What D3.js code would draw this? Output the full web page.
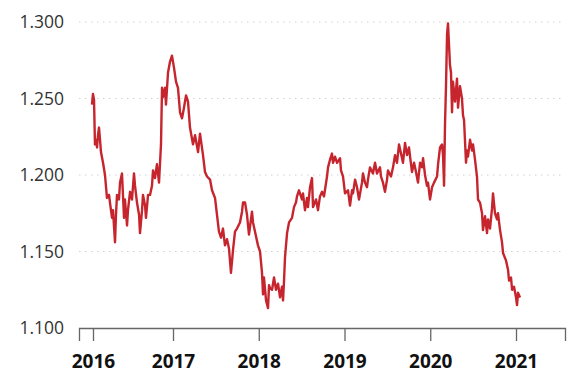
<!DOCTYPE html>
<html>
<head>
<meta charset="utf-8">
<script src="https://cdn.jsdelivr.net/npm/d3@7"></script>
<style>
  html, body { margin: 0; padding: 0; background: #fff; }
  svg { display: block; }
</style>
</head>
<body>
<svg id="chart" width="575" height="385"></svg>
<script>
// Time in decimal years
const years = [
  2016.055,2016.067,2016.079,2016.090,2016.102,2016.114,2016.125,2016.137,2016.149,2016.160,
  2016.184,2016.207,2016.230,2016.254,2016.265,2016.289,2016.300,2016.324,2016.335,2016.347,
  2016.370,2016.382,2016.405,2016.429,2016.440,2016.464,2016.475,2016.499,2016.522,2016.545,
  2016.557,2016.580,2016.604,2016.615,2016.639,2016.650,2016.674,2016.685,2016.709,2016.732,
  2016.755,2016.767,2016.790,2016.813,2016.837,2016.860,2016.872,2016.883,2016.907,2016.918,
  2016.942,2016.965,2016.988,2017.012,2017.035,2017.058,2017.082,2017.105,2017.128,2017.152,
  2017.175,2017.198,2017.233,2017.257,2017.292,2017.315,2017.350,2017.373,2017.397,2017.432,
  2017.455,2017.490,2017.513,2017.536,2017.560,2017.583,2017.606,2017.630,2017.653,2017.676,
  2017.700,2017.723,2017.746,2017.781,2017.805,2017.816,2017.840,2017.863,2017.886,2017.921,
  2017.933,2017.956,2017.991,2018.015,2018.038,2018.050,2018.061,2018.085,2018.108,2018.120,
  2018.131,2018.155,2018.178,2018.201,2018.225,2018.248,2018.271,2018.283,2018.295,2018.306,
  2018.330,2018.353,2018.388,2018.411,2018.434,2018.446,2018.469,2018.504,2018.516,2018.539,
  2018.563,2018.574,2018.598,2018.621,2018.633,2018.668,2018.691,2018.714,2018.738,2018.761,
  2018.796,2018.808,2018.831,2018.854,2018.866,2018.889,2018.913,2018.948,2018.959,2018.983,
  2019.006,2019.041,2019.064,2019.088,2019.099,2019.123,2019.146,2019.169,2019.204,2019.216,
  2019.239,2019.262,2019.274,2019.297,2019.332,2019.356,2019.379,2019.414,2019.426,2019.449,
  2019.472,2019.496,2019.507,2019.542,2019.566,2019.589,2019.612,2019.636,2019.659,2019.682,
  2019.706,2019.729,2019.752,2019.776,2019.787,2019.811,2019.834,2019.857,2019.881,2019.904,
  2019.916,2019.939,2019.962,2019.974,2019.997,2020.021,2020.044,2020.079,2020.091,2020.114,
  2020.137,2020.149,2020.161,2020.172,2020.184,2020.196,2020.207,2020.230,2020.242,2020.254,
  2020.265,2020.289,2020.312,2020.324,2020.347,2020.370,2020.382,2020.394,2020.417,2020.429,
  2020.440,2020.464,2020.487,2020.499,2020.522,2020.545,2020.557,2020.580,2020.604,2020.615,
  2020.639,2020.662,2020.674,2020.697,2020.720,2020.732,2020.755,2020.779,2020.790,2020.814,
  2020.837,2020.849,2020.884,2020.907,2020.919,2020.942,2020.954,2020.977,2021.000,2021.012,
  2021.023,2021.047
];
const values = [
  1.246,1.253,1.249,1.220,1.223,1.218,1.226,1.231,1.223,1.215,
  1.208,1.200,1.185,1.187,1.182,1.172,1.177,1.156,1.174,1.187,
  1.184,1.195,1.201,1.172,1.184,1.167,1.177,1.189,1.184,1.201,
  1.193,1.182,1.174,1.162,1.177,1.187,1.180,1.172,1.187,1.187,
  1.193,1.203,1.198,1.207,1.195,1.220,1.257,1.251,1.257,1.246,
  1.267,1.274,1.278,1.270,1.261,1.257,1.241,1.237,1.244,1.252,
  1.248,1.231,1.220,1.226,1.215,1.227,1.213,1.202,1.199,1.197,
  1.190,1.185,1.174,1.163,1.159,1.165,1.154,1.158,1.152,1.136,
  1.151,1.163,1.165,1.169,1.176,1.182,1.182,1.174,1.161,1.176,
  1.169,1.163,1.154,1.150,1.136,1.122,1.133,1.118,1.113,1.128,
  1.126,1.125,1.133,1.125,1.129,1.120,1.127,1.118,1.131,1.146,
  1.162,1.169,1.172,1.179,1.182,1.186,1.190,1.184,1.188,1.177,
  1.185,1.179,1.192,1.198,1.179,1.184,1.177,1.186,1.189,1.186,
  1.199,1.205,1.210,1.214,1.208,1.212,1.208,1.211,1.203,1.199,
  1.188,1.190,1.180,1.190,1.188,1.197,1.192,1.184,1.195,1.201,
  1.195,1.192,1.197,1.205,1.201,1.208,1.201,1.205,1.199,1.195,
  1.189,1.197,1.203,1.199,1.205,1.213,1.208,1.220,1.214,1.208,
  1.221,1.213,1.218,1.207,1.202,1.208,1.202,1.195,1.208,1.205,
  1.211,1.200,1.193,1.195,1.184,1.192,1.195,1.199,1.207,1.218,
  1.220,1.213,1.193,1.233,1.259,1.292,1.299,1.272,1.267,1.241,
  1.261,1.248,1.263,1.244,1.258,1.250,1.239,1.236,1.208,1.216,
  1.212,1.223,1.216,1.220,1.210,1.199,1.184,1.182,1.175,1.164,
  1.173,1.162,1.171,1.165,1.178,1.188,1.175,1.171,1.175,1.164,
  1.156,1.149,1.144,1.138,1.131,1.133,1.125,1.127,1.120,1.115,
  1.123,1.120
];
const yTicks = [1.100, 1.150, 1.200, 1.250, 1.300];
const xTickValues = [2016.067, 2017, 2018, 2019, 2020, 2021];
const xTickLabels = ["2016", "2017", "2018", "2019", "2020", "2021"];

const data = years.map((t, i) => ({ t, v: values[i] }));

const svg = d3.select("#chart");
const mLeft = 79, mRight = 565, mTop = 22, mBottom = 328;

const x = d3.scaleLinear()
  .domain([2017 - (173 - mLeft) / 85.75, 2021 + (mRight - 516) / 85.75])
  .range([mLeft, mRight]);
const y = d3.scaleLinear().domain([1.1, 1.3]).range([mBottom, mTop]);

// gridlines
svg.append("g")
  .selectAll("line")
  .data(yTicks.filter(d => d > 1.1))
  .join("line")
  .attr("x1", mLeft).attr("x2", mRight)
  .attr("y1", d => y(d)).attr("y2", d => y(d))
  .attr("stroke", "#d2d2d2")
  .attr("stroke-width", 1)
  .attr("stroke-dasharray", "1.5,4.5");

// y labels
svg.append("g")
  .selectAll("text")
  .data(yTicks)
  .join("text")
  .attr("x", 64)
  .attr("y", d => y(d))
  .attr("dy", "0.35em")
  .attr("text-anchor", "end")
  .attr("font-family", "'Open Sans', 'Noto Sans', sans-serif")
  .attr("font-size", 17.5)
  .attr("fill", "#333")
  .text(d => d3.format(".3f")(d));

// x axis
const xAxis = d3.axisBottom(x)
  .tickValues(xTickValues)
  .tickSize(13)
  .tickPadding(14)
  .tickFormat((d, i) => xTickLabels[i]);

const gx = svg.append("g")
  .attr("transform", `translate(0,${mBottom})`)
  .call(xAxis);
gx.select(".domain").attr("stroke", "#666").attr("stroke-width", 1.3);
gx.selectAll(".tick line").attr("stroke", "#666").attr("stroke-width", 1.3);
gx.selectAll(".tick text")
  .attr("font-family", "'Open Sans', 'Noto Sans', sans-serif")
  .attr("font-size", 19)
  .attr("font-weight", "bold")
  .attr("fill", "#111");

// line
const line = d3.line().x(d => x(d.t)).y(d => y(d.v));
svg.append("path")
  .datum(data)
  .attr("fill", "none")
  .attr("stroke", "#c6252e")
  .attr("stroke-width", 2.4)
  .attr("stroke-linejoin", "round")
  .attr("d", line);
</script>
</body>
</html>
